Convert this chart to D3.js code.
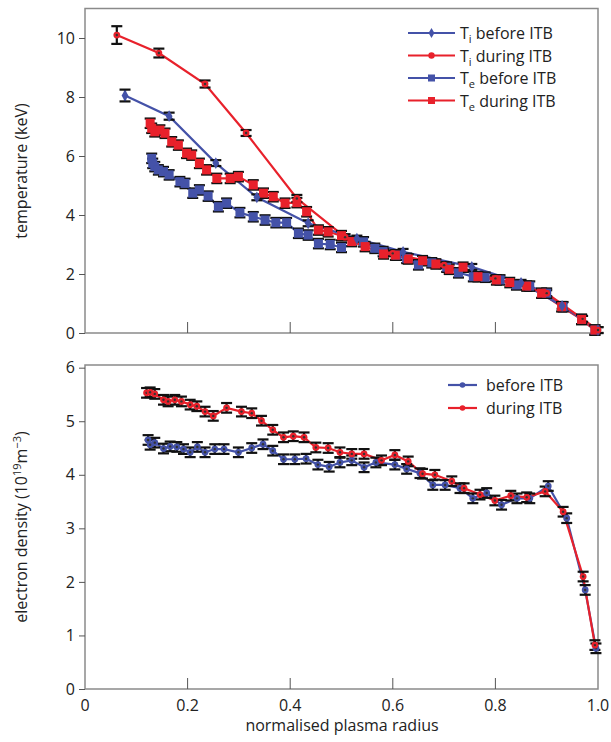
<!DOCTYPE html>
<html>
<head>
<meta charset="utf-8">
<script src="https://cdn.jsdelivr.net/npm/d3@7"></script>
<style>
  body { margin: 0; background: #fff; }
  text { font-family: "Open Sans", "Noto Sans", sans-serif; fill: #222; }
</style>
</head>
<body>
<script>
// ---- data ----
// ion temperature (few points)
var tiBeforeR = [0.078, 0.164, 0.255, 0.335, 0.435, 0.53, 0.62, 0.754, 0.85, 0.93, 1.0];
var tiBeforeT = [8.05, 7.35, 5.76, 4.6, 3.72, 3.2, 2.75, 2.24, 1.7, 0.92, 0.1];
var tiBeforeErr = [0.2, 0.12, 0.1, 0.1, 0.1, 0.1, 0.1, 0.1, 0.1, 0.1, 0.1];

var tiDuringR = [0.062, 0.144, 0.234, 0.314, 0.413, 0.507, 0.6, 0.7, 0.8, 0.9, 0.97, 1.0];
var tiDuringT = [10.1, 9.49, 8.44, 6.78, 4.56, 3.25, 2.7, 2.3, 1.85, 1.35, 0.48, 0.1];
var tiDuringErr = [0.3, 0.15, 0.12, 0.1, 0.12, 0.1, 0.1, 0.1, 0.1, 0.1, 0.1, 0.1];

// electron temperature (many points)
var teBeforeR = [0.130, 0.132, 0.136, 0.143, 0.153, 0.164, 0.185, 0.195, 0.210, 0.223, 0.240, 0.260, 0.276,
  0.302, 0.328, 0.351, 0.372, 0.393, 0.416, 0.435, 0.455, 0.478, 0.500, 0.543, 0.565, 0.581, 0.608, 0.627,
  0.650, 0.676, 0.705, 0.728, 0.757, 0.780, 0.809, 0.841, 0.867, 0.900, 0.932, 0.968, 0.994];
var teBeforeT = [5.92, 5.75, 5.64, 5.53, 5.47, 5.36, 5.13, 5.07, 4.74, 4.85, 4.64, 4.28, 4.40,
  4.08, 3.94, 3.83, 3.74, 3.74, 3.38, 3.32, 3.03, 3.0, 2.9, 3.09, 2.87, 2.76, 2.64, 2.53,
  2.31, 2.38, 2.23, 2.04, 1.91, 1.89, 1.80, 1.63, 1.59, 1.35, 0.89, 0.46, 0.10];

var teDuringR = [0.127, 0.130, 0.136, 0.146, 0.156, 0.169, 0.182, 0.198, 0.208, 0.223, 0.237, 0.257, 0.283,
  0.299, 0.328, 0.348, 0.367, 0.390, 0.413, 0.432, 0.455, 0.474, 0.500, 0.520, 0.546, 0.582, 0.605, 0.630,
  0.658, 0.684, 0.710, 0.737, 0.766, 0.802, 0.828, 0.861, 0.890, 0.929, 0.968, 0.994];
var teDuringT = [7.11, 6.94, 6.82, 6.88, 6.77, 6.48, 6.37, 6.09, 6.03, 5.75, 5.53, 5.24, 5.24,
  5.30, 5.02, 4.74, 4.62, 4.40, 4.42, 4.11, 3.49, 3.43, 3.30, 3.10, 2.93, 2.68, 2.64, 2.51,
  2.45, 2.34, 2.16, 2.23, 1.91, 1.80, 1.71, 1.59, 1.35, 0.89, 0.46, 0.10];

// electron density
var neBeforeR = [0.123, 0.127, 0.136, 0.153, 0.166, 0.179, 0.192, 0.205, 0.219, 0.234, 0.253, 0.271, 0.299,
  0.325, 0.347, 0.366, 0.387, 0.409, 0.431, 0.454, 0.476, 0.497, 0.520, 0.544, 0.567, 0.604, 0.627, 0.653,
  0.678, 0.702, 0.731, 0.756, 0.783, 0.812, 0.842, 0.867, 0.903, 0.939, 0.975, 0.996];
var neBefore = [4.65, 4.56, 4.60, 4.49, 4.53, 4.52, 4.48, 4.42, 4.52, 4.42, 4.48, 4.48, 4.42,
  4.50, 4.57, 4.45, 4.29, 4.29, 4.30, 4.19, 4.15, 4.23, 4.27, 4.14, 4.23, 4.19, 4.11, 4.03,
  3.81, 3.81, 3.75, 3.56, 3.66, 3.44, 3.56, 3.56, 3.79, 3.19, 1.85, 0.76];

var neDuringR = [0.120, 0.127, 0.136, 0.153, 0.162, 0.175, 0.188, 0.205, 0.218, 0.234, 0.250, 0.276, 0.305,
  0.325, 0.344, 0.366, 0.387, 0.406, 0.427, 0.450, 0.474, 0.497, 0.520, 0.544, 0.578, 0.604, 0.630, 0.658,
  0.682, 0.715, 0.739, 0.770, 0.799, 0.830, 0.861, 0.897, 0.932, 0.971, 0.994];
var neDuring = [5.53, 5.54, 5.51, 5.40, 5.37, 5.40, 5.37, 5.31, 5.28, 5.18, 5.10, 5.25, 5.18,
  5.15, 5.01, 4.84, 4.70, 4.72, 4.70, 4.51, 4.50, 4.42, 4.39, 4.39, 4.27, 4.37, 4.25, 4.02,
  4.00, 3.88, 3.75, 3.63, 3.52, 3.61, 3.58, 3.69, 3.31, 2.10, 0.82];

var xTicks = [0, 0.2, 0.4, 0.6, 0.8, 1.0];
var tTicks = [0, 2, 4, 6, 8, 10];
var nTicks = [0, 1, 2, 3, 4, 5, 6];

var blue = "#4452a8", red = "#e8212b";

// ---- layout ----
var W = 611, H = 742;
var svg = d3.select("body").append("svg").attr("width", W).attr("height", H);

var x = d3.scaleLinear().domain([0, 1]).range([85, 598]);
var yT = d3.scaleLinear().domain([0, 11]).range([333, 8.5]);
var yN = d3.scaleLinear().domain([0, 6.05]).range([689, 365]);

function zip(rs, vs, err) {
  return rs.map(function(r, i) { return {r: r, v: vs[i], e: err ? (Array.isArray(err) ? err[i] : err) : 0}; });
}

function panel(y, ticks, labelFmt) {
  var g = svg.append("g");
  // frame
  g.append("rect")
    .attr("x", x(0)).attr("y", y.range()[1])
    .attr("width", x(1) - x(0)).attr("height", y.range()[0] - y.range()[1])
    .attr("fill", "none").attr("stroke", "#8a8a8a").attr("stroke-width", 1.5);
  // left axis, outward ticks
  var ya = g.append("g").attr("transform", "translate(" + x(0) + ",0)")
    .call(d3.axisLeft(y).tickValues(ticks).tickSize(6).tickPadding(4).tickFormat(labelFmt));
  ya.select(".domain").remove();
  ya.selectAll("line").attr("stroke", "#555");
  ya.selectAll("text").attr("font-size", 16).attr("fill", "#222");
  // bottom inner ticks
  g.selectAll(".itick").data([0.2, 0.4, 0.6, 0.8]).enter().append("line")
    .attr("x1", function(d) { return x(d); }).attr("x2", function(d) { return x(d); })
    .attr("y1", y.range()[0]).attr("y2", y.range()[0] - 11)
    .attr("stroke", "#555").attr("stroke-width", 1);
  return g;
}

function series(g, y, data, color) {
  var line = d3.line().x(function(d) { return x(d.r); }).y(function(d) { return y(d.v); });
  g.append("path").datum(data).attr("d", line)
    .attr("fill", "none").attr("stroke", color).attr("stroke-width", 2.2);
}

function errbars(g, y, data) {
  var eb = g.append("g").attr("stroke", "#111").attr("stroke-width", 2.2);
  data.forEach(function(d) {
    var cx = x(d.r), y1 = y(d.v + d.e), y2 = y(d.v - d.e);
    eb.append("line").attr("x1", cx).attr("x2", cx).attr("y1", y1).attr("y2", y2);
    eb.append("line").attr("x1", cx - 5.5).attr("x2", cx + 5.5).attr("y1", y1).attr("y2", y1);
    eb.append("line").attr("x1", cx - 5.5).attr("x2", cx + 5.5).attr("y1", y2).attr("y2", y2);
  });
}

function markers(g, y, data, color, marker) {
  var m = g.append("g");
  data.forEach(function(d) {
    drawMarker(m, x(d.r), y(d.v), color, marker);
  });
}

function drawMarker(m, cx, cy, color, marker) {
  if (marker === "square") {
    m.append("rect").attr("x", cx - 4.5).attr("y", cy - 4.5).attr("width", 9).attr("height", 9).attr("fill", color);
  } else if (marker === "diamond") {
    m.append("path").attr("d", d3.symbol(d3.symbolDiamond, 40)()).attr("transform", "translate(" + cx + "," + cy + ")")
      .attr("fill", color);
  } else {
    m.append("circle").attr("cx", cx).attr("cy", cy).attr("r", 3.4).attr("fill", color);
    m.append("circle").attr("cx", cx).attr("cy", cy).attr("r", 1.2).attr("fill", "#333");
  }
}

// ---- top panel: temperature ----
var gT = panel(yT, tTicks, d3.format("d"));
var tiB = zip(tiBeforeR, tiBeforeT, tiBeforeErr),
    tiD = zip(tiDuringR, tiDuringT, tiDuringErr),
    teB = zip(teBeforeR, teBeforeT, 0.16),
    teD = zip(teDuringR, teDuringT, 0.16);

series(gT, yT, teB, blue);
series(gT, yT, teD, red);
series(gT, yT, tiB, blue);
series(gT, yT, tiD, red);
[teB, teD, tiB, tiD].forEach(function(s) { errbars(gT, yT, s); });
markers(gT, yT, teB, blue, "square");
markers(gT, yT, teD, red, "square");
markers(gT, yT, tiB, blue, "diamond");
markers(gT, yT, tiD, red, "circle");

// ---- bottom panel: density ----
var gN = panel(yN, nTicks, d3.format("d"));
var nB = zip(neBeforeR, neBefore, 0.09), nD = zip(neDuringR, neDuring, 0.09);
series(gN, yN, nB, blue);
series(gN, yN, nD, red);
errbars(gN, yN, nB);
errbars(gN, yN, nD);
markers(gN, yN, nB, blue, "circle");
markers(gN, yN, nD, red, "circle");

// x tick labels (bottom only)
svg.append("g").selectAll("text").data(xTicks).enter().append("text")
  .attr("x", function(d) { return x(d); }).attr("y", 711)
  .attr("text-anchor", "middle").attr("font-size", 16)
  .text(function(d) { return d === 0 ? "0" : d3.format(".1f")(d); });

svg.append("text").attr("x", 342).attr("y", 731).attr("text-anchor", "middle")
  .attr("font-size", 16).text("normalised plasma radius");

// axis titles
svg.append("text").attr("transform", "translate(27,171) rotate(-90)")
  .attr("text-anchor", "middle").attr("font-size", 16).text("temperature (keV)");

var yl = svg.append("text").attr("transform", "translate(27,527) rotate(-90)")
  .attr("text-anchor", "middle").attr("font-size", 16);
yl.append("tspan").text("electron density (10");
yl.append("tspan").attr("font-size", 11).attr("dy", -6).text("19");
yl.append("tspan").attr("dy", 6).text("m");
yl.append("tspan").attr("font-size", 11).attr("dy", -6).text("\u22123");
yl.append("tspan").attr("dy", 6).text(")");

// ---- legends ----
var legTop = [
  {sub: "i", rest: " before ITB", color: blue, marker: "diamond"},
  {sub: "i", rest: " during ITB", color: red, marker: "circle"},
  {sub: "e", rest: " before ITB", color: blue, marker: "square"},
  {sub: "e", rest: " during ITB", color: red, marker: "square"}
];
legTop.forEach(function(d, i) {
  var ly = 33 + i * 22.5;
  svg.append("line").attr("x1", 408).attr("x2", 455).attr("y1", ly).attr("y2", ly)
    .attr("stroke", d.color).attr("stroke-width", 2.2);
  var m = svg.append("g");
  if (d.marker === "square") {
    m.append("rect").attr("x", 428).attr("y", ly - 3.5).attr("width", 7).attr("height", 7).attr("fill", d.color);
  } else if (d.marker === "diamond") {
    m.append("path").attr("d", d3.symbol(d3.symbolDiamond, 30)()).attr("transform", "translate(431.5," + ly + ")").attr("fill", d.color);
  } else {
    m.append("circle").attr("cx", 431.5).attr("cy", ly).attr("r", 3.2).attr("fill", d.color);
  }
  var t = svg.append("text").attr("x", 460).attr("y", ly + 6).attr("font-size", 16);
  t.append("tspan").text("T");
  t.append("tspan").attr("font-size", 11).attr("dy", 4).text(d.sub);
  t.append("tspan").attr("dy", -4).text(d.rest);
});

var legBot = [
  {label: "before ITB", color: blue},
  {label: "during ITB", color: red}
];
legBot.forEach(function(d, i) {
  var ly = 385 + i * 23;
  svg.append("line").attr("x1", 448).attr("x2", 477).attr("y1", ly).attr("y2", ly)
    .attr("stroke", d.color).attr("stroke-width", 2.2);
  svg.append("circle").attr("cx", 462.5).attr("cy", ly).attr("r", 2.8).attr("fill", d.color);
  svg.append("text").attr("x", 486).attr("y", ly + 6).attr("font-size", 16).text(d.label);
});
</script>
</body>
</html>
